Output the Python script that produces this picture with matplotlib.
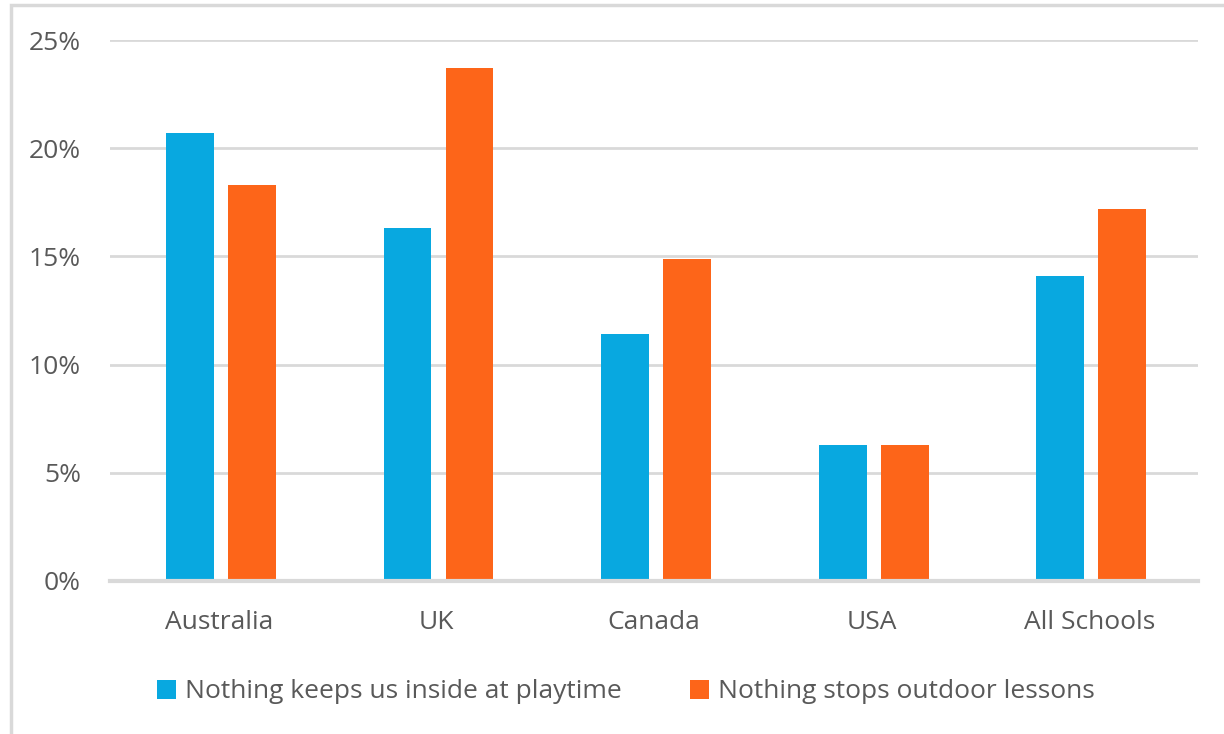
import matplotlib
matplotlib.use("Agg")
import matplotlib.pyplot as plt
from matplotlib.patches import Rectangle
import numpy as np

categories = ["Australia", "UK", "Canada", "USA", "All Schools"]
series_names = ["Nothing keeps us inside at playtime", "Nothing stops outdoor lessons"]
inside_playtime = [20.7, 16.3, 11.4, 6.3, 14.1]
outdoor_lessons = [18.3, 23.7, 14.9, 6.3, 17.2]
yticks = [0, 5, 10, 15, 20, 25]
ytick_labels = ["0%", "5%", "10%", "15%", "20%", "25%"]

blue = "#08A8E0"
orange = "#FD6519"
text_col = "#595959"
grid_col = "#D9D9D9"

plt.rcParams['font.family'] = ['Open Sans', 'DejaVu Sans']

fig = plt.figure(figsize=(12.24, 7.34), dpi=100)
fig.patches.append(Rectangle((11/1224, -0.1), 1.2, 1 - 5/734 + 0.1, transform=fig.transFigure,
                             fill=False, edgecolor=grid_col, linewidth=2.5, zorder=0))

ax = fig.add_axes([110/1224, 1 - 581/734, 1088/1224, 541/734])
x = np.arange(len(categories))
w = 0.22
ax.bar(x - 0.133, inside_playtime, w, color=blue, label=series_names[0], zorder=3)
ax.bar(x + 0.152, outdoor_lessons, w, color=orange, label=series_names[1], zorder=3)

ax.set_xlim(-0.5, len(categories) - 0.5)
ax.set_ylim(0, 25)
ax.set_yticks(yticks)
ax.set_yticklabels(ytick_labels)
ax.set_xticks(x)
ax.set_xticklabels(categories)
ax.tick_params(axis='both', length=0, labelsize=19, colors=text_col)
ax.tick_params(axis='y', pad=21)
ax.tick_params(axis='x', pad=21)
ax.yaxis.grid(True, color=grid_col, linewidth=2, zorder=0)
ax.set_axisbelow(True)
for s in ["top", "right", "left"]:
    ax.spines[s].set_visible(False)
ax.spines["bottom"].set_color(grid_col)
ax.spines["bottom"].set_linewidth(3)
ax.spines["bottom"].set_zorder(4)

leg = fig.legend(loc="center", bbox_to_anchor=(626/1224, 1 - 692/734), ncol=2, frameon=False,
                 fontsize=19, handlelength=0.7, handleheight=0.7, handletextpad=0.35,
                 columnspacing=2.6)
for t in leg.get_texts():
    t.set_color(text_col)

fig.savefig("out.png", dpi=100)
